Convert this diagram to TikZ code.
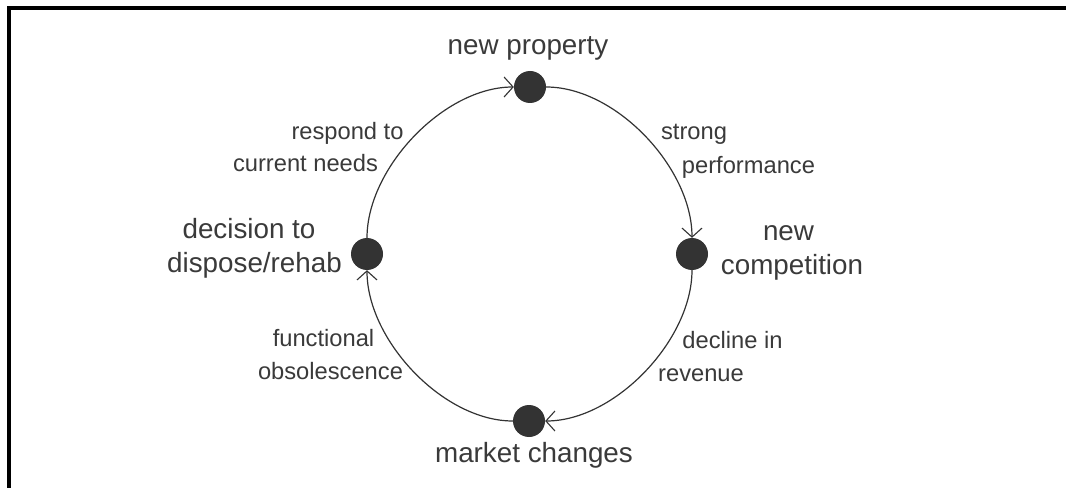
\documentclass[tikz,border=0pt]{standalone}
\usepackage{fontspec}
\setmainfont{Liberation Sans}
\usetikzlibrary{arrows.meta}
\definecolor{ink}{HTML}{333333}
\definecolor{txt}{HTML}{3A3A3A}
\tikzset{
  dot/.style={circle, fill=ink, draw=none, minimum size=32pt, inner sep=0pt},
  flow/.style={draw=ink, line width=1.2pt, looseness=0.85,
    -{Straight Barb[length=9pt,width=20pt,line width=1.1pt]}},
  biglbl/.style={anchor=base, inner sep=0pt, text=txt, font=\fontsize{27.8pt}{30pt}\selectfont},
  smalllbl/.style={anchor=base, inner sep=0pt, text=txt, font=\fontsize{23.7pt}{26pt}\selectfont},
  frameline/.style={line width=4pt, line join=miter, black}
}
\begin{document}
\begin{tikzpicture}[x=1pt,y=1pt]
\useasboundingbox (0,0) rectangle (1066,488);
\fill[white] (0,0) rectangle (1066,488);
% frame (top and left edges only)
\coordinate (fr1) at (1066,480);
\coordinate (fr2) at (9,480);
\coordinate (fr3) at (9,0);
\draw[frameline] (fr1) -- (fr2) -- (fr3);
% dots
\node[dot] (T) at (530,401) {};
\node[dot] (R) at (692,234) {};
\node[dot] (B) at (529,67) {};
\node[dot] (L) at (367,234) {};
% connectors
\draw[flow] (L) to[out=90,in=180] (T);
\draw[flow] (T) to[out=0,in=90] (R);
\draw[flow] (R) to[out=270,in=0] (B);
\draw[flow] (B) to[out=180,in=270] (L);
% stage labels
\node[biglbl] (tT) at (528,433) {new property};
\node[biglbl] (tR1) at (788.5,247.5) {new};
\node[biglbl] (tR2) at (792,213) {competition};
\node[biglbl] (tL1) at (249,249) {decision to};
\node[biglbl] (tL2) at (254.5,215) {dispose/rehab};
\node[biglbl] (tB) at (534,26) {market changes};
% transition labels
\node[smalllbl] (a1) at (347.5,348) {respond to};
\node[smalllbl] (a2) at (305.5,316.3) {current needs};
\node[smalllbl] (b1) at (694,348) {strong};
\node[smalllbl] (b2) at (748.5,314) {performance};
\node[smalllbl] (c1) at (323.5,141.3) {functional};
\node[smalllbl] (c2) at (330.5,109) {obsolescence};
\node[smalllbl] (d1) at (732.5,139.7) {decline in};
\node[smalllbl] (d2) at (701,107) {revenue};
\end{tikzpicture}
\end{document}
